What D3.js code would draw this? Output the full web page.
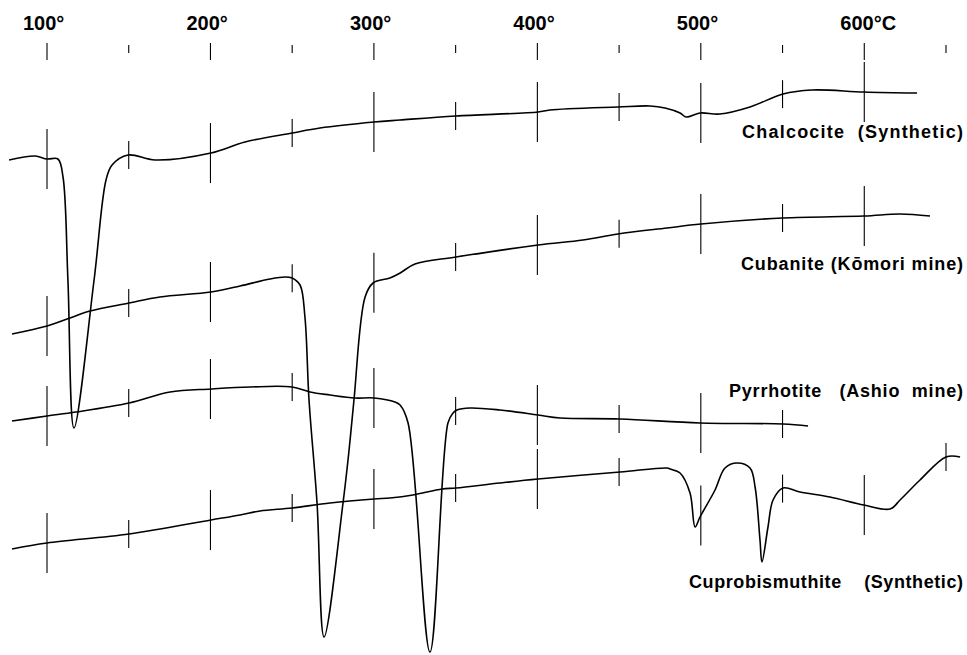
<!DOCTYPE html>
<html>
  <head>
    <style>
      body { margin: 0; background: #fff; }
      .curve { fill: none; stroke: #000; stroke-width: 1.6; }
      .mark { stroke: #000; stroke-width: 1.1; }
      .lbl {
        font-family: "Liberation Sans", Arial, sans-serif;
        font-weight: bold;
        font-size: 18px;
        white-space: pre;
      }
      .tick-lbl { font-size: 20px; }
    </style>
    <script src="https://d3js.org/d3.v7.min.js"></script>
  </head>
  <body>
    <svg id="chart" width="967" height="655"></svg>

    <script>
      // temperature marks (every 50 deg) and top scale labels
      var temps = [100, 150, 200, 250, 300, 350, 400, 450, 500, 550, 600, 650];
      var labelTemps = [100, 200, 300, 400, 500, 600];
      var tickLabels = ["100°", "200°", "300°", "400°", "500°", "600°C"];

      // DTA traces: [temperature degC, deflection (arbitrary units, up = exo)]
      var chalcocite = [
        [76.8, 495], [92.7, 499], [100, 496], [106.7, 496], [109.8, 478],
        [112.8, 375], [116.5, 227], [128.8, 375], [136.1, 475], [139.8, 490],
        [149.6, 500], [166.1, 495], [200.3, 502], [221.1, 513], [249.9, 522],
        [267, 527], [300.1, 533], [316, 535], [350.2, 539], [400.4, 543],
        [407.7, 545], [449.3, 548], [468.9, 549], [478.1, 547], [487.3, 542],
        [491, 538], [499.5, 542], [511.7, 541], [530.1, 548], [550.3, 561],
        [568, 565], [599.8, 563], [632.3, 562]
      ];
      var cubanite = [
        [78.6, 321], [100, 329], [114.1, 337], [126.3, 344], [150.2, 352],
        [169.1, 358], [200.3, 363], [218.1, 369], [236.4, 376], [245.6, 378],
        [249.9, 377], [254.8, 370], [257.8, 338], [260.3, 255], [265.2, 152],
        [269.5, 18], [281.1, 152], [284.8, 205], [287.8, 255], [294.6, 358],
        [299.5, 372], [309.8, 377], [316, 382], [325.1, 391], [350.2, 398],
        [400.4, 410], [427.9, 415], [449.3, 421], [479.3, 427], [500.1, 431],
        [550.3, 437], [599.8, 439], [621.9, 441], [640.2, 439]
      ];
      var pyrrhotite = [
        [78.6, 234], [100, 239], [117.7, 243], [150.2, 252], [175.3, 263],
        [200.3, 266], [224.2, 268], [249.9, 268], [260.9, 263], [273.1, 260],
        [288.4, 257], [300.1, 257], [312.9, 253], [316, 250], [320.9, 232],
        [334.3, 3], [345.3, 232], [348.4, 242], [350.8, 245], [358.8, 247],
        [377.1, 245], [400.4, 240], [413.9, 237], [450.6, 236], [499.5, 232],
        [550.3, 231], [565.6, 229]
      ];
      var cuprobismuthite = [
        [78.6, 106], [100, 112], [150.2, 121], [200.3, 135], [218.1, 140],
        [230.3, 144], [249.9, 147], [273.1, 152], [300.1, 156], [309.8, 157],
        [323.9, 160], [341.7, 166], [350.2, 167], [377.1, 172], [400.4, 176],
        [450.6, 183], [479.3, 187], [481.2, 186], [487.3, 182], [493.4, 162],
        [496.5, 128], [499.5, 138], [508.7, 165], [514.8, 187], [522.1, 192],
        [530.1, 187], [533.2, 168], [536.2, 115], [537.4, 93], [541.1, 128],
        [544.2, 155], [550.3, 167], [560.7, 163], [579, 158], [599.8, 150],
        [615.8, 146], [621.9, 155], [634.1, 175], [650, 198], [658.6, 198]
      ];

      var names = [
        "Chalcocite  (Synthetic)",
        "Cubanite (Kōmori mine)",
        "Pyrrhotite   (Ashio  mine)",
        "Cuprobismuthite    (Synthetic)"
      ];
      var traces = [chalcocite, cubanite, pyrrhotite, cuprobismuthite];

      var svg = d3.select("#chart");
      var x = d3.scaleLinear().domain([100, 650]).range([47, 946]);
      var y = d3.scaleLinear().domain([0, 655]).range([655, 0]);

      var line = d3.line()
        .x(function(d) { return x(d[0]); })
        .y(function(d) { return y(d[1]); })
        .curve(d3.curveCatmullRom.alpha(0.5));

      // top temperature scale
      svg.selectAll(".topTick")
        .data(temps)
        .enter().append("line")
        .attr("class", "mark")
        .attr("x1", function(d) { return x(d); })
        .attr("x2", function(d) { return x(d); })
        .attr("y1", function(d) { return d % 100 === 0 ? 43 : 45; })
        .attr("y2", function(d) { return d % 100 === 0 ? 60 : 53; });

      svg.selectAll(".tick-lbl")
        .data(labelTemps)
        .enter().append("text")
        .attr("class", "lbl tick-lbl")
        .attr("x", function(d) { return x(d) - 24; })
        .attr("y", 30)
        .text(function(d, i) { return tickLabels[i]; });

      // value of a trace at temperature t (for placing the marks on it)
      function valueAt(trace, t) {
        for (var i = 1; i < trace.length; i++) {
          if (trace[i][0] >= t) {
            var a = trace[i - 1], b = trace[i];
            var f = (t - a[0]) / (b[0] - a[0]);
            return a[1] + f * (b[1] - a[1]);
          }
        }
        return trace[trace.length - 1][1];
      }

      traces.forEach(function(trace) {
        svg.append("path")
          .attr("class", "curve")
          .attr("d", line(trace));

        var first = trace[0][0], last = trace[trace.length - 1][0];
        var marks = temps.filter(function(t) { return t >= first && t <= last; });
        marks.forEach(function(t) {
          var cy = y(valueAt(trace, t));
          var half = t % 100 === 0 ? 30 : 14;
          svg.append("line")
            .attr("class", "mark")
            .attr("x1", x(t)).attr("x2", x(t))
            .attr("y1", cy - half).attr("y2", cy + half);
        });
      });

      // curve names
      var labelPos = [
        { y: 138, w: 221 },
        { y: 270, w: 222 },
        { y: 397, w: 234 },
        { y: 588, w: 274 }
      ];
      names.forEach(function(n, i) {
        svg.append("text")
          .attr("class", "lbl")
          .attr("x", 963)
          .attr("y", labelPos[i].y)
          .attr("text-anchor", "end")
          .attr("textLength", labelPos[i].w)
          .attr("lengthAdjust", "spacing")
          .text(n);
      });
    </script>
  </body>
</html>
